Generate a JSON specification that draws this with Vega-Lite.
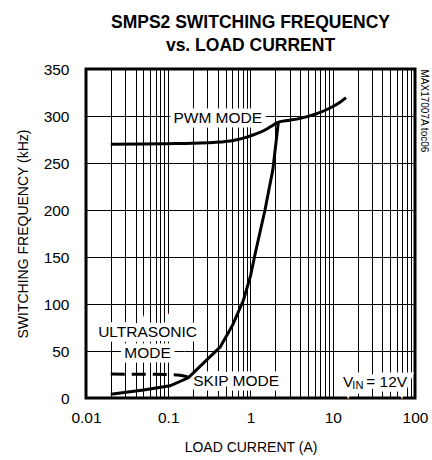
{
  "$schema": "https://vega.github.io/schema/vega-lite/v6.json",
  "width": 329,
  "height": 329,
  "autosize": {"type": "none"},
  "padding": {"left": 86, "top": 69, "right": 17, "bottom": 62},
  "title": {
    "text": ["SMPS2 SWITCHING FREQUENCY", "vs. LOAD CURRENT"],
    "font": "Liberation Sans, Arial, sans-serif",
    "fontWeight": "bold",
    "fontSize": 17.5,
    "lineHeight": 23,
    "color": "#000",
    "anchor": "middle",
    "frame": "group",
    "offset": 8
  },
  "datasets": {
    "pwm": [
      {"current": 0.02, "freq": 270},
      {"current": 0.05, "freq": 270.3},
      {"current": 0.1, "freq": 270.6},
      {"current": 0.2, "freq": 271},
      {"current": 0.35, "freq": 271.8},
      {"current": 0.5, "freq": 272.8},
      {"current": 0.7, "freq": 275},
      {"current": 0.86, "freq": 277},
      {"current": 1.05, "freq": 279.5},
      {"current": 1.3, "freq": 282.5},
      {"current": 1.6, "freq": 286.5},
      {"current": 1.9, "freq": 290.5},
      {"current": 2.18, "freq": 293.5},
      {"current": 3, "freq": 295.5},
      {"current": 4, "freq": 297.5},
      {"current": 6.4, "freq": 302.5},
      {"current": 9.3, "freq": 308.5},
      {"current": 12, "freq": 314},
      {"current": 14.5, "freq": 319.5}
    ],
    "skip": [
      {"current": 0.02, "freq": 4},
      {"current": 0.05, "freq": 8.5},
      {"current": 0.105, "freq": 13},
      {"current": 0.175, "freq": 21.5},
      {"current": 0.26, "freq": 36},
      {"current": 0.43, "freq": 54.5},
      {"current": 0.61, "freq": 78},
      {"current": 0.82, "freq": 104},
      {"current": 1.0, "freq": 130},
      {"current": 1.15, "freq": 155},
      {"current": 1.5, "freq": 200},
      {"current": 1.87, "freq": 243},
      {"current": 2.1, "freq": 281},
      {"current": 2.18, "freq": 293.5}
    ],
    "ultra": [
      {"current": 0.02, "freq": 25.5},
      {"current": 0.1, "freq": 25},
      {"current": 0.14, "freq": 24.3},
      {"current": 0.175, "freq": 22.5}
    ],
    "labels": [
      {"current": 0.4, "freq": 298, "text": "PWM MODE"},
      {"current": 0.056, "freq": 70.5, "text": "ULTRASONIC"},
      {"current": 0.056, "freq": 47.5, "text": "MODE"},
      {"current": 0.67, "freq": 18.5, "text": "SKIP MODE"}
    ],
    "vin": [
      {"current": 13.3, "freq": 17.5, "text": "V"},
      {"current": 25.5, "freq": 17.5, "text": "= 12V"}
    ],
    "vinsub": [
      {"current": 17.3, "freq": 12.5, "text": "IN"}
    ]
  },
  "layer": [
    {
      "data": {"name": "labels"},
      "mark": {"type": "text", "align": "center", "baseline": "middle", "fontSize": 15.5, "color": "#fff", "stroke": "#fff", "strokeWidth": 9, "strokeJoin": "miter"},
      "encoding": {
        "x": {"field": "current", "type": "quantitative", "scale": {"type": "log", "domain": [0.01, 100], "nice": false},
          "axis": {
            "values": [0.01,0.02,0.03,0.04,0.05,0.06,0.07,0.08,0.09,0.1,0.2,0.3,0.4,0.5,0.6,0.7,0.8,0.9,1,2,3,4,5,6,7,8,9,10,20,30,40,50,60,70,80,90,100],
            "labelExpr": "indexof([0.01,0.1,1,10,100], datum.value) >= 0 ? format(datum.value, '~g') : ''",
            "title": "LOAD CURRENT (A)",
            "ticks": false, "domain": false, "labelFlush": false, "labelOverlap": false,
            "labelPadding": 12, "titlePadding": 15,
            "grid": true, "gridColor": "#000", "gridWidth": 1, "gridOpacity": 1
          }},
        "y": {"field": "freq", "type": "quantitative", "scale": {"domain": [0, 350], "nice": false},
          "axis": {
            "values": [0,50,100,150,200,250,300,350],
            "title": "SWITCHING FREQUENCY (kHz)",
            "ticks": false, "domain": false, "labelFlush": false,
            "labelPadding": 17, "titlePadding": 13,
            "grid": true, "gridColor": "#000", "gridWidth": 1, "gridOpacity": 1
          }},
        "text": {"field": "text"}
      }
    },
    {
      "data": {"name": "vin"},
      "mark": {"type": "text", "align": "left", "baseline": "middle", "fontSize": 15.5, "color": "#fff", "stroke": "#fff", "strokeWidth": 9},
      "encoding": {
        "x": {"field": "current", "type": "quantitative"},
        "y": {"field": "freq", "type": "quantitative", "axis": null},
        "text": {"field": "text"}
      }
    },
    {
      "data": {"name": "vinsub"},
      "mark": {"type": "text", "align": "left", "baseline": "middle", "fontSize": 11, "color": "#fff", "stroke": "#fff", "strokeWidth": 9},
      "encoding": {
        "x": {"field": "current", "type": "quantitative"},
        "y": {"field": "freq", "type": "quantitative", "axis": null},
        "text": {"field": "text"}
      }
    },
    {
      "data": {"name": "pwm"},
      "mark": {"type": "line", "color": "#000", "strokeWidth": 3, "interpolate": "monotone"},
      "encoding": {
        "x": {"field": "current", "type": "quantitative"},
        "y": {"field": "freq", "type": "quantitative", "axis": null}
      }
    },
    {
      "data": {"name": "skip"},
      "mark": {"type": "line", "color": "#000", "strokeWidth": 3},
      "encoding": {
        "x": {"field": "current", "type": "quantitative"},
        "y": {"field": "freq", "type": "quantitative", "axis": null}
      }
    },
    {
      "data": {"name": "ultra"},
      "mark": {"type": "line", "color": "#000", "strokeWidth": 3, "strokeDash": [14, 7]},
      "encoding": {
        "x": {"field": "current", "type": "quantitative"},
        "y": {"field": "freq", "type": "quantitative",
          "axis": {"orient": "right", "labels": false, "ticks": false, "domain": false, "grid": false,
            "title": "MAX17007A toc06", "titleFontSize": 10, "titleFontWeight": "normal", "titleAngle": 90,
            "titleAnchor": "end", "titleAlign": "left", "titlePadding": 3}}
      }
    },
    {
      "data": {"name": "labels"},
      "mark": {"type": "text", "align": "center", "baseline": "middle", "fontSize": 15.5, "color": "#000"},
      "encoding": {
        "x": {"field": "current", "type": "quantitative"},
        "y": {"field": "freq", "type": "quantitative", "axis": null},
        "text": {"field": "text"}
      }
    },
    {
      "data": {"name": "vin"},
      "mark": {"type": "text", "align": "left", "baseline": "middle", "fontSize": 15.5, "color": "#000"},
      "encoding": {
        "x": {"field": "current", "type": "quantitative"},
        "y": {"field": "freq", "type": "quantitative", "axis": null},
        "text": {"field": "text"}
      }
    },
    {
      "data": {"name": "vinsub"},
      "mark": {"type": "text", "align": "left", "baseline": "middle", "fontSize": 11, "color": "#000"},
      "encoding": {
        "x": {"field": "current", "type": "quantitative"},
        "y": {"field": "freq", "type": "quantitative", "axis": null},
        "text": {"field": "text"}
      }
    }
  ],
  "resolve": {"axis": {"y": "independent"}},
  "config": {
    "view": {"stroke": "#000", "strokeWidth": 3},
    "font": "Liberation Sans, Arial, sans-serif",
    "text": {"font": "Liberation Sans, Arial, sans-serif"},
    "axis": {
      "labelFont": "Liberation Sans, Arial, sans-serif",
      "titleFont": "Liberation Sans, Arial, sans-serif",
      "labelFontSize": 15.5, "titleFontSize": 14, "titleFontWeight": "normal",
      "labelColor": "#000", "titleColor": "#000"
    }
  }
}
